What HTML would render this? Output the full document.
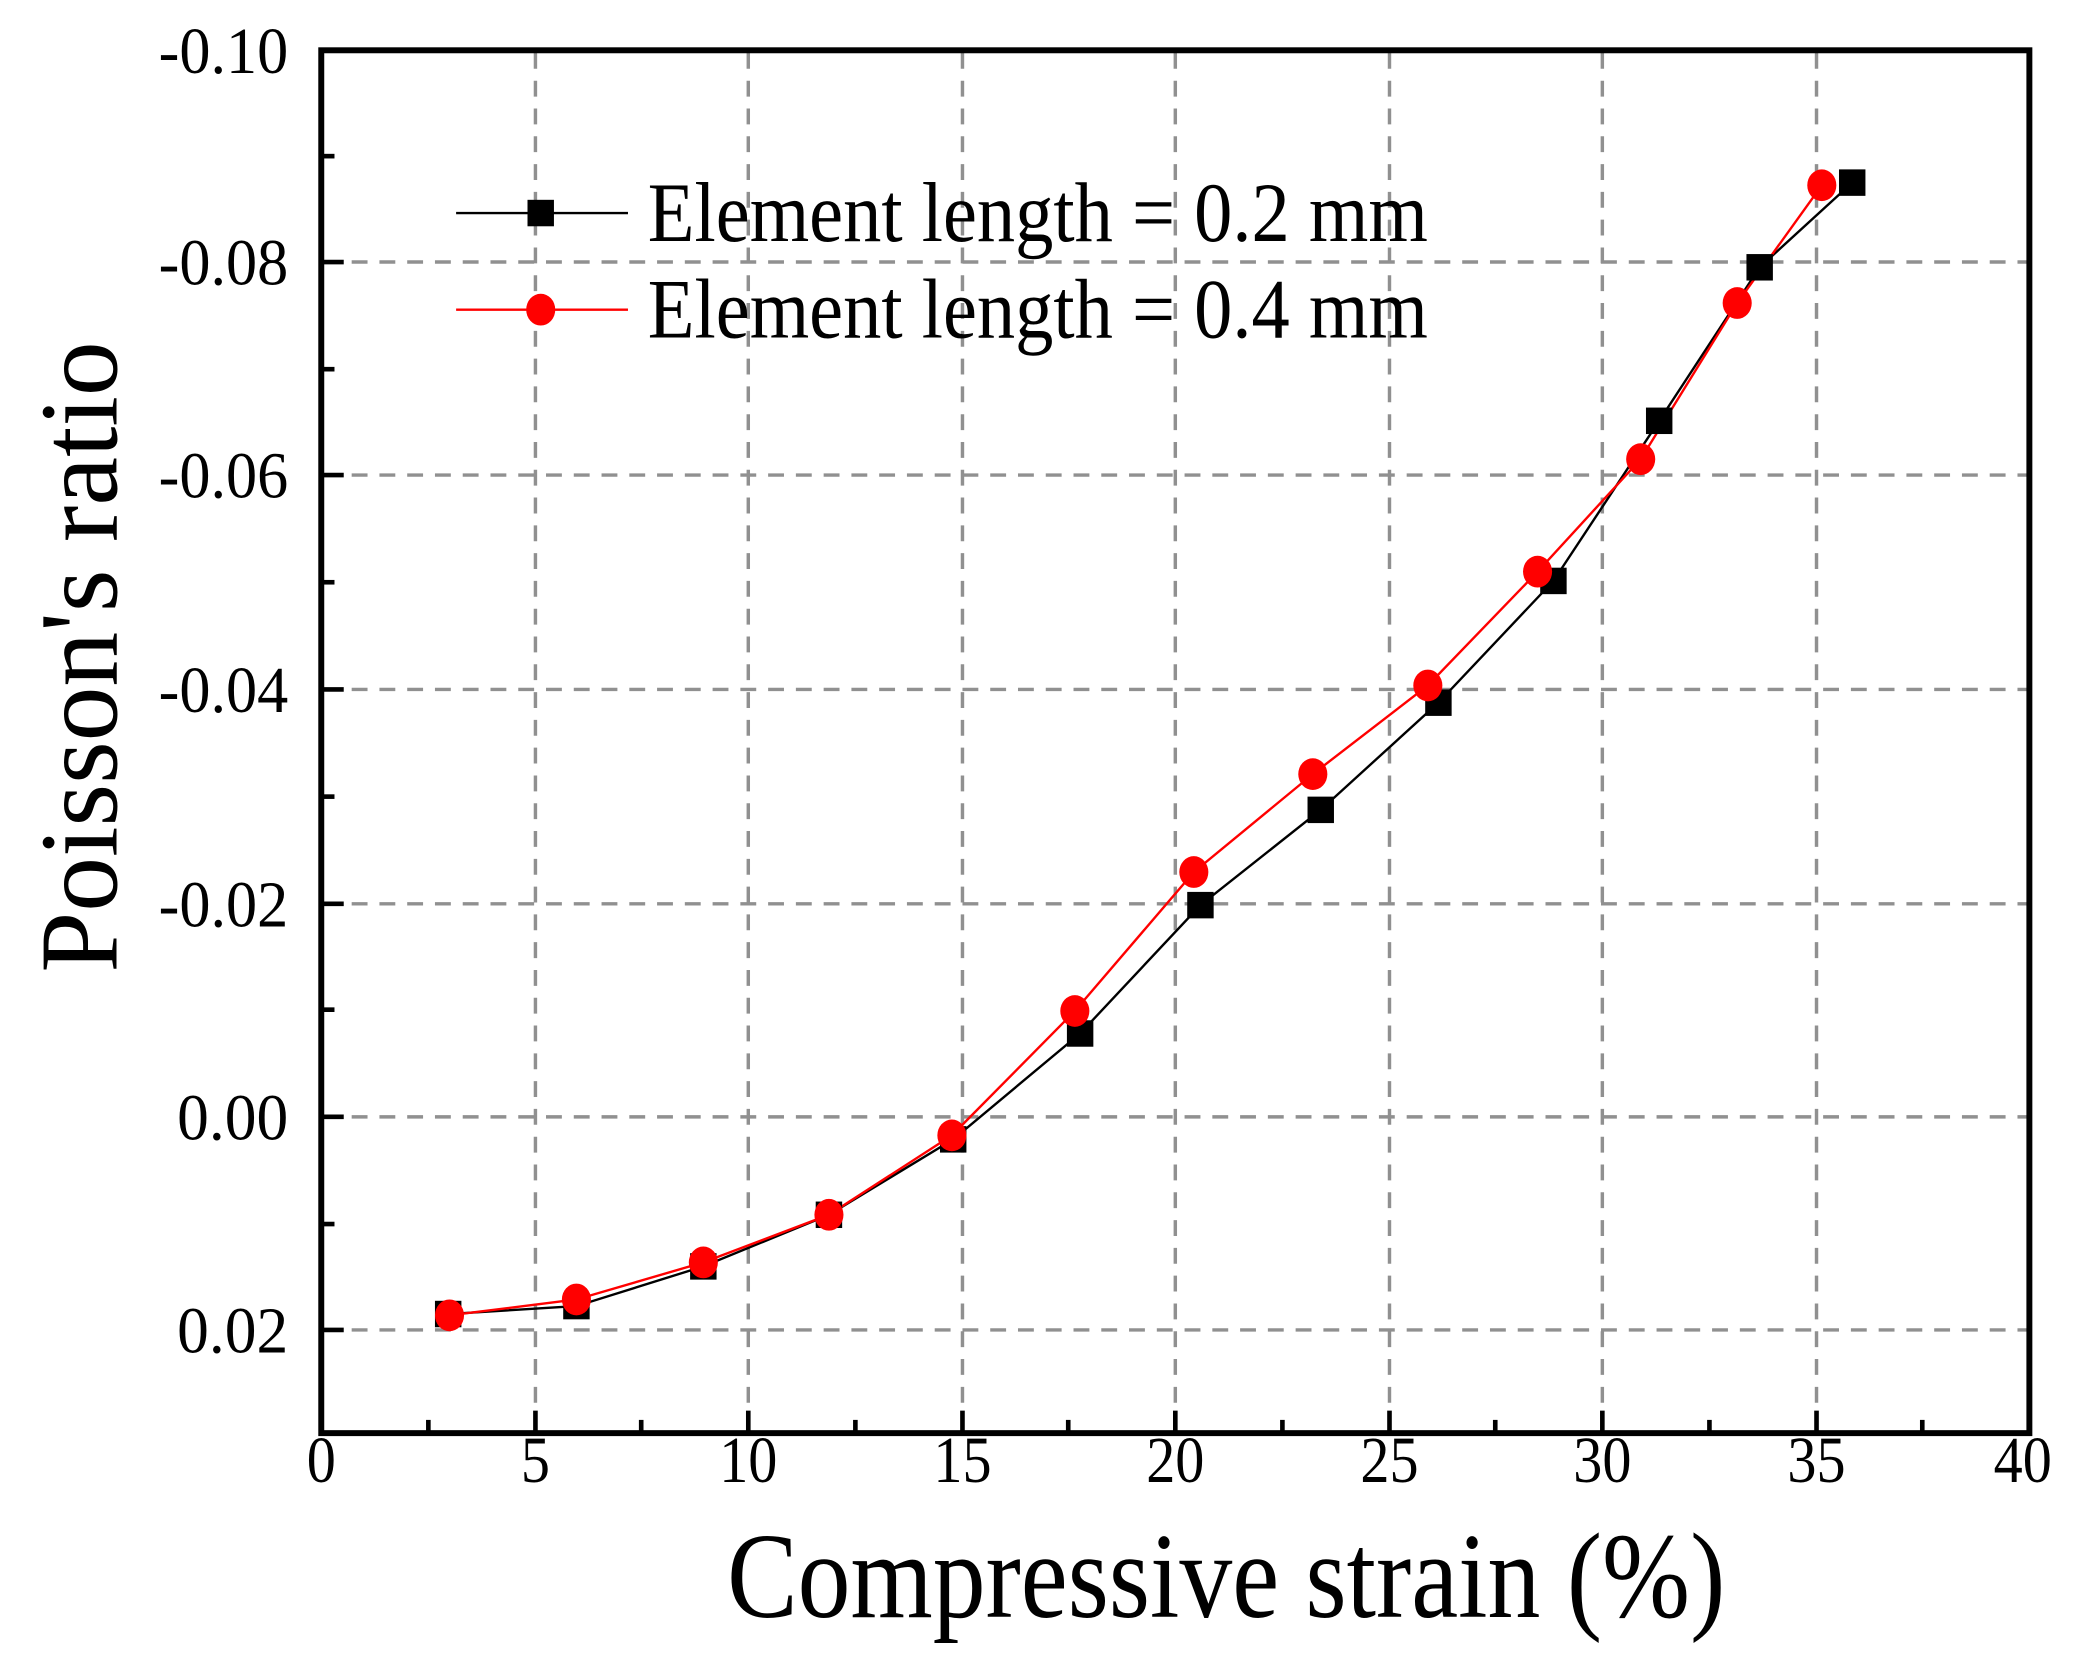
<!DOCTYPE html>
<html><head><meta charset="utf-8"><style>html,body{margin:0;padding:0;background:#fff;}svg{display:block}</style></head>
<body>
<svg width="2073" height="1670" viewBox="0 0 1568 1262" preserveAspectRatio="none" xmlns="http://www.w3.org/2000/svg" font-family="'Liberation Serif', serif">
<rect width="1568" height="1262" fill="#fff"/>
<g stroke="#909090" stroke-width="2.6" stroke-dasharray="12,9" fill="none">
<line x1="405" y1="40" x2="405" y2="1081"/><line x1="566" y1="40" x2="566" y2="1081"/><line x1="728" y1="40" x2="728" y2="1081"/><line x1="889" y1="40" x2="889" y2="1081"/><line x1="1051" y1="40" x2="1051" y2="1081"/><line x1="1212" y1="40" x2="1212" y2="1081"/><line x1="1374" y1="40" x2="1374" y2="1081"/>
<line x1="245" y1="198" x2="1533" y2="198"/><line x1="245" y1="359" x2="1533" y2="359"/><line x1="245" y1="521" x2="1533" y2="521"/><line x1="245" y1="683" x2="1533" y2="683"/><line x1="245" y1="844" x2="1533" y2="844"/><line x1="245" y1="1005" x2="1533" y2="1005"/>
</g>
<g stroke="#000" stroke-width="3.5">
<line x1="243" y1="198" x2="260" y2="198"/><line x1="243" y1="359" x2="260" y2="359"/><line x1="243" y1="521" x2="260" y2="521"/><line x1="243" y1="683" x2="260" y2="683"/><line x1="243" y1="844" x2="260" y2="844"/><line x1="243" y1="1005" x2="260" y2="1005"/>
<line x1="243" y1="118" x2="253" y2="118"/><line x1="243" y1="279" x2="253" y2="279"/><line x1="243" y1="440" x2="253" y2="440"/><line x1="243" y1="602" x2="253" y2="602"/><line x1="243" y1="763" x2="253" y2="763"/><line x1="243" y1="925" x2="253" y2="925"/>
<line x1="405" y1="1083" x2="405" y2="1066"/><line x1="566" y1="1083" x2="566" y2="1066"/><line x1="728" y1="1083" x2="728" y2="1066"/><line x1="889" y1="1083" x2="889" y2="1066"/><line x1="1051" y1="1083" x2="1051" y2="1066"/><line x1="1212" y1="1083" x2="1212" y2="1066"/><line x1="1374" y1="1083" x2="1374" y2="1066"/>
<line x1="324" y1="1083" x2="324" y2="1073"/><line x1="485" y1="1083" x2="485" y2="1073"/><line x1="647" y1="1083" x2="647" y2="1073"/><line x1="808" y1="1083" x2="808" y2="1073"/><line x1="970" y1="1083" x2="970" y2="1073"/><line x1="1131" y1="1083" x2="1131" y2="1073"/><line x1="1293" y1="1083" x2="1293" y2="1073"/><line x1="1454" y1="1083" x2="1454" y2="1073"/>
</g>
<rect x="243" y="38" width="1292" height="1045" fill="none" stroke="#000" stroke-width="4.5"/>
<g font-size="50" text-anchor="end" fill="#000">
<text x="218" y="55" textLength="98" lengthAdjust="spacingAndGlyphs">-0.10</text>
<text x="218" y="215" textLength="98" lengthAdjust="spacingAndGlyphs">-0.08</text>
<text x="218" y="376" textLength="98" lengthAdjust="spacingAndGlyphs">-0.06</text>
<text x="218" y="538" textLength="98" lengthAdjust="spacingAndGlyphs">-0.04</text>
<text x="218" y="700" textLength="98" lengthAdjust="spacingAndGlyphs">-0.02</text>
<text x="218" y="861" textLength="84" lengthAdjust="spacingAndGlyphs">0.00</text>
<text x="218" y="1022" textLength="84" lengthAdjust="spacingAndGlyphs">0.02</text>
</g>
<g font-size="50" text-anchor="middle" fill="#000">
<text x="243" y="1120" textLength="22" lengthAdjust="spacingAndGlyphs">0</text><text x="405" y="1120" textLength="22" lengthAdjust="spacingAndGlyphs">5</text><text x="566" y="1120" textLength="44" lengthAdjust="spacingAndGlyphs">10</text><text x="728" y="1120" textLength="44" lengthAdjust="spacingAndGlyphs">15</text><text x="889" y="1120" textLength="44" lengthAdjust="spacingAndGlyphs">20</text><text x="1051" y="1120" textLength="44" lengthAdjust="spacingAndGlyphs">25</text><text x="1212" y="1120" textLength="44" lengthAdjust="spacingAndGlyphs">30</text><text x="1374" y="1120" textLength="44" lengthAdjust="spacingAndGlyphs">35</text><text x="1530" y="1120" textLength="44" lengthAdjust="spacingAndGlyphs">40</text>
</g>
<text x="550" y="1222" font-size="92" textLength="755" lengthAdjust="spacingAndGlyphs">Compressive strain (%)</text>
<text transform="translate(88,735) rotate(-90)" font-size="84" textLength="477" lengthAdjust="spacingAndGlyphs">Poisson's ratio</text>
<polyline fill="none" stroke="#000" stroke-width="1.8" points="339,993 436,987 532,957 627,918 721,861 817,781 908,684 999,612 1088,531 1175,439 1255,318 1331,202 1401,138"/>
<polyline fill="none" stroke="#f00" stroke-width="1.8" points="340,994 436,982 532,954 627,918 720,858 813,764 903,659 993,585 1080,518 1163,432 1241,347 1314,229 1378,140"/>
<g fill="#000">
<rect x="329" y="983" width="20" height="20"/><rect x="426" y="977" width="20" height="20"/><rect x="522" y="947" width="20" height="20"/><rect x="617" y="908" width="20" height="20"/><rect x="711" y="851" width="20" height="20"/><rect x="807" y="771" width="20" height="20"/><rect x="898" y="674" width="20" height="20"/><rect x="989" y="602" width="20" height="20"/><rect x="1078" y="521" width="20" height="20"/><rect x="1165" y="429" width="20" height="20"/><rect x="1245" y="308" width="20" height="20"/><rect x="1321" y="192" width="20" height="20"/><rect x="1391" y="128" width="20" height="20"/>
</g>
<g fill="#f00">
<ellipse cx="340" cy="994" rx="11" ry="12"/><ellipse cx="436" cy="982" rx="11" ry="12"/><ellipse cx="532" cy="954" rx="11" ry="12"/><ellipse cx="627" cy="918" rx="11" ry="12"/><ellipse cx="720" cy="858" rx="11" ry="12"/><ellipse cx="813" cy="764" rx="11" ry="12"/><ellipse cx="903" cy="659" rx="11" ry="12"/><ellipse cx="993" cy="585" rx="11" ry="12"/><ellipse cx="1080" cy="518" rx="11" ry="12"/><ellipse cx="1163" cy="432" rx="11" ry="12"/><ellipse cx="1241" cy="347" rx="11" ry="12"/><ellipse cx="1314" cy="229" rx="11" ry="12"/><ellipse cx="1378" cy="140" rx="11" ry="12"/>
</g>
<line x1="345" y1="161" x2="475" y2="161" stroke="#000" stroke-width="1.8"/>
<rect x="399" y="151" width="20" height="20" fill="#000"/>
<line x1="345" y1="234" x2="475" y2="234" stroke="#f00" stroke-width="1.8"/>
<ellipse cx="409" cy="234" rx="11" ry="12" fill="#f00"/>
<text x="490" y="182" font-size="64" textLength="590" lengthAdjust="spacingAndGlyphs">Element length = 0.2 mm</text>
<text x="490" y="255" font-size="64" textLength="590" lengthAdjust="spacingAndGlyphs">Element length = 0.4 mm</text>
</svg>
</body></html>
